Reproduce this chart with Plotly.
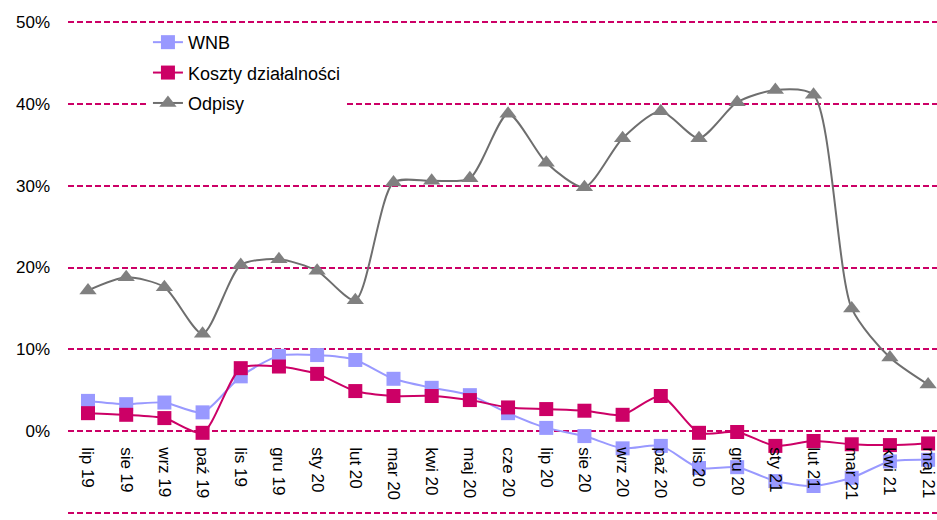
import plotly.graph_objects as go

categories = ["lip 19", "sie 19", "wrz 19", "paź 19", "lis 19", "gru 19", "sty 20", "lut 20",
              "mar 20", "kwi 20", "maj 20", "cze 20", "lip 20", "sie 20", "wrz 20", "paź 20",
              "lis 20", "gru 20", "sty 21", "lut 21", "mar 21", "kwi 21", "maj 21"]
wnb = [3.7, 3.3, 3.5, 2.3, 6.7, 9.2, 9.3, 8.7, 6.4, 5.3, 4.4, 2.2, 0.4, -0.6, -2.1, -1.8,
       -4.5, -4.4, -6.1, -6.7, -5.7, -3.7, -3.5]
koszty = [2.2, 2.0, 1.6, -0.2, 7.7, 7.9, 7.0, 4.9, 4.3, 4.3, 3.8, 2.9, 2.7, 2.5, 2.0, 4.3,
          -0.2, -0.1, -1.8, -1.2, -1.6, -1.7, -1.5]
odpisy = [17.2, 18.8, 17.6, 11.9, 20.3, 21.0, 19.6, 16.0, 30.4, 30.6, 30.9, 38.8, 32.8, 29.8,
          35.8, 39.1, 35.8, 40.2, 41.7, 41.1, 15.0, 9.0, 5.7]
y_ticks = [-10, 0, 10, 20, 30, 40, 50]
y_labels = ["-10%", "0%", "10%", "20%", "30%", "40%", "50%"]

FONT = "Liberation Sans, Arial, sans-serif"

fig = go.Figure()
fig.add_trace(go.Scatter(x=categories, y=wnb, name="WNB", mode="lines+markers",
                         line=dict(color="#9999FF", width=2, shape="spline", smoothing=0.7),
                         marker=dict(symbol="square", size=14, color="#9999FF"),
                         legendgroup="a"))
fig.add_trace(go.Scatter(x=categories, y=koszty, name="Koszty działalności", mode="lines+markers",
                         line=dict(color="#CC0066", width=2, shape="spline", smoothing=0.7),
                         marker=dict(symbol="square", size=14, color="#CC0066"),
                         legendgroup="b"))
fig.add_trace(go.Scatter(x=categories, y=odpisy, name="Odpisy", mode="lines+markers",
                         line=dict(color="#6E6E6E", width=2, shape="spline", smoothing=0.7),
                         marker=dict(symbol="triangle-up", size=15, color="#808080"),
                         legendgroup="c"))

fig.update_layout(
    width=937, height=520,
    margin=dict(l=68, r=0, t=20, b=5),
    paper_bgcolor="white", plot_bgcolor="white",
    font=dict(family=FONT, size=17, color="black"),
    legend=dict(x=0.092, y=0.992, xanchor="left", yanchor="top", bgcolor="white",
                font=dict(size=18), traceorder="grouped", tracegroupgap=4),
    xaxis=dict(type="category", range=[-0.524, 22.233], anchor="free", position=10.244 / 60.488,
               showgrid=False, showline=False, zeroline=False, ticks="",
               tickangle=90, tickfont=dict(size=17), ticklabelstandoff=15),
    yaxis=dict(range=[-10.244, 50.244], tickvals=y_ticks, ticktext=y_labels, showgrid=True,
               gridcolor="#CC0066", gridwidth=1.5, griddash="6px,3px", zeroline=False,
               showline=False, ticks="", tickfont=dict(size=17), ticklabelstandoff=17),
)

fig.write_html("out.html", config={"displayModeBar": False},
               post_script="document.body.style.margin='0';")
